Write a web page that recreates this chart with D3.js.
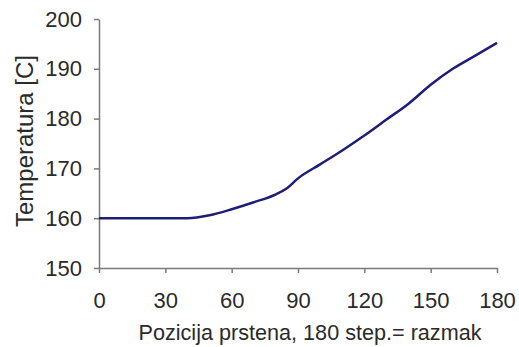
<!DOCTYPE html>
<html lang="en">
<head>
    <meta charset="UTF-8">
    <title>Temperatura</title>
    <script src="https://d3js.org/d3.v7.min.js"></script>
    <style>
        body { margin: 0; background: #fff; }
        .line {
            fill: none;
            stroke: #1e1e78;
            stroke-width: 2.5px;
        }
        .axis path,
        .axis line {
            fill: none;
            stroke: #7a7a7a;
            stroke-width: 1.5px;
        }
        .axis text {
            font-family: "Liberation Sans", Arial, sans-serif;
            font-size: 22px;
            fill: #2a2a2a;
        }
        .label {
            font-family: "Liberation Sans", Arial, sans-serif;
            fill: #2a2a2a;
        }
    </style>
</head>
<body>
<svg width="519" height="347"></svg>
<script>
    // Data
    const positions = [0, 10, 20, 30, 40, 50, 60, 70, 80, 85, 90, 100, 110, 120, 130, 140, 150, 160, 170, 180];
    const temps = [160, 160, 160, 160, 160, 160.6, 161.8, 163.2, 164.8, 166, 168, 170.8, 173.6, 176.6, 179.8, 183, 186.8, 190, 192.6, 195.2];
    const xTicks = [0, 30, 60, 90, 120, 150, 180];
    const yTicks = [150, 160, 170, 180, 190, 200];

    const data = positions.map((p, i) => ({pos: p, temp: temps[i]}));

    const margin = {top: 19, right: 22, bottom: 79, left: 99},
        width = 519 - margin.left - margin.right,
        height = 347 - margin.top - margin.bottom;

    const x = d3.scaleLinear().domain([0, 180]).range([0, width]);
    const y = d3.scaleLinear().domain([150, 200]).range([height, 0]);

    const svg = d3.select("svg");
    const g = svg.append("g")
        .attr("transform", "translate(" + margin.left + "," + margin.top + ")");

    // Y axis
    g.append("g")
        .attr("class", "y axis")
        .call(d3.axisLeft(y).tickValues(yTicks).tickSize(5).tickSizeOuter(0).tickPadding(12));

    // X axis
    g.append("g")
        .attr("class", "x axis")
        .attr("transform", "translate(0," + height + ")")
        .call(d3.axisBottom(x).tickValues(xTicks).tickSize(5).tickSizeOuter(0).tickPadding(19));

    // the line
    const line = d3.line()
        .x(d => x(d.pos))
        .y(d => y(d.temp))
        .curve(d3.curveMonotoneX);

    g.append("path")
        .attr("class", "line")
        .attr("d", line(data));

    // axis titles
    svg.append("text")
        .attr("class", "label")
        .attr("x", 310)
        .attr("y", 340)
        .attr("text-anchor", "middle")
        .attr("font-size", 22)
        .attr("textLength", 343)
        .attr("lengthAdjust", "spacingAndGlyphs")
        .text("Pozicija prstena, 180 step.= razmak");

    svg.append("text")
        .attr("class", "label")
        .attr("transform", "translate(33,141) rotate(-90)")
        .attr("text-anchor", "middle")
        .attr("font-size", 23)
        .attr("textLength", 172)
        .attr("lengthAdjust", "spacingAndGlyphs")
        .text("Temperatura [C]");
</script>
</body>
</html>
